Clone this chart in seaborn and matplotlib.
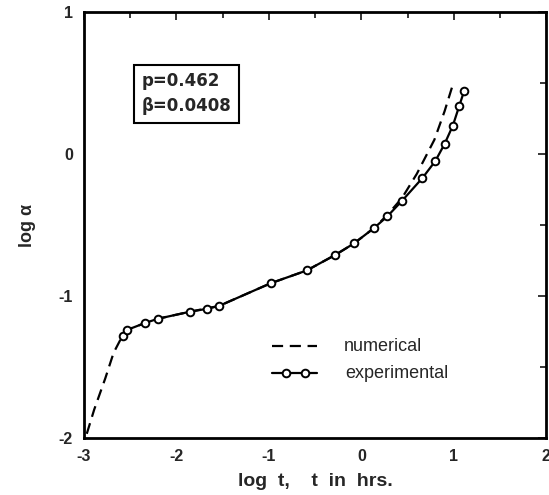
import pandas as pd
import seaborn as sns
import matplotlib.pyplot as plt

# experimental points (log t, log alpha)
exp_logt = [-2.58, -2.54, -2.34, -2.20, -1.85, -1.67, -1.54, -0.98, -0.59, -0.28,
            -0.08, 0.14, 0.28, 0.44, 0.66, 0.80, 0.90, 0.99, 1.06, 1.11]
exp_loga = [-1.28, -1.24, -1.19, -1.16, -1.11, -1.09, -1.07, -0.91, -0.82, -0.71,
            -0.63, -0.52, -0.44, -0.33, -0.17, -0.05, 0.07, 0.20, 0.34, 0.44]

# numerical curve
num_logt = [-2.97, -2.89, -2.77, -2.68, -2.60, -2.54, -2.34, -2.20, -1.85, -1.54,
            -0.98, -0.59, -0.28, -0.08, 0.14, 0.28, 0.44, 0.60, 0.79, 0.90, 1.00]
num_loga = [-1.97, -1.80, -1.58, -1.40, -1.30, -1.24, -1.19, -1.16, -1.11, -1.07,
            -0.91, -0.82, -0.71, -0.63, -0.52, -0.43, -0.31, -0.14, 0.10, 0.30, 0.51]

exp_df = pd.DataFrame({'logt': exp_logt, 'loga': exp_loga})
num_df = pd.DataFrame({'logt': num_logt, 'loga': num_loga})

sns.set_style('white')
plt.rcParams['font.family'] = ['Liberation Sans', 'DejaVu Sans']
plt.rcParams['font.weight'] = 'bold'
plt.rcParams['axes.unicode_minus'] = False

fig = plt.figure(figsize=(5.49, 4.95), dpi=100)
ax = fig.add_axes([0.153, 0.115, 0.842, 0.861])

sns.lineplot(x='logt', y='loga', data=num_df, ax=ax, color='black',
             linestyle=(0, (5, 3)), linewidth=1.6, sort=False)
sns.lineplot(x='logt', y='loga', data=exp_df, ax=ax, color='black',
             linewidth=1.6, marker='o', markersize=5.5, markerfacecolor='white',
             markeredgecolor='black', markeredgewidth=1.4, sort=False)

ax.set_xlim(-3, 2)
ax.set_ylim(-2, 1)
ax.set_xticks([-3, -2, -1, 0, 1, 2])
ax.set_yticks([-2, -1, 0, 1])
ax.set_xticks([-2.5, -1.5, -0.5, 0.5, 1.5], minor=True)
ax.set_yticks([-1.5, -0.5, 0.5], minor=True)
ax.tick_params(which='both', direction='in', top=True, right=True,
               labelsize=11.5, width=1.3)
ax.tick_params(which='major', length=6, pad=8)
ax.tick_params(which='minor', length=4)
for lab in ax.get_xticklabels() + ax.get_yticklabels():
    lab.set_fontweight('bold')
for s in ax.spines.values():
    s.set_linewidth(2)
    s.set_color('black')

ax.set_xlabel('log  t,    t  in  hrs.', fontsize=14, fontweight='bold', labelpad=6)
ax.set_ylabel('log α', fontsize=13, fontweight='bold', labelpad=16)

# parameter box
ax.text(-2.38, 0.425, 'p=0.462\nβ=0.0408', fontsize=12, fontweight='bold',
        family=['DejaVu Sans'], va='center', ha='left', linespacing=1.5,
        bbox=dict(boxstyle='square,pad=0.45', facecolor='white',
                  edgecolor='black', linewidth=1.5))

# hand-drawn legend
ax.plot([-0.97, -0.48], [-1.355, -1.355], color='black', linestyle=(0, (5, 3)), linewidth=1.6)
ax.plot([-0.97, -0.48], [-1.545, -1.545], color='black', linewidth=1.6)
ax.plot([-0.82, -0.61], [-1.545, -1.545], 'o', color='black', markersize=5.5,
        markerfacecolor='white', markeredgewidth=1.4)
ax.text(-0.19, -1.355, 'numerical', fontsize=13, fontweight='normal', va='center')
ax.text(-0.17, -1.545, 'experimental', fontsize=13, fontweight='normal', va='center')

fig.savefig('out.png', dpi=100)
